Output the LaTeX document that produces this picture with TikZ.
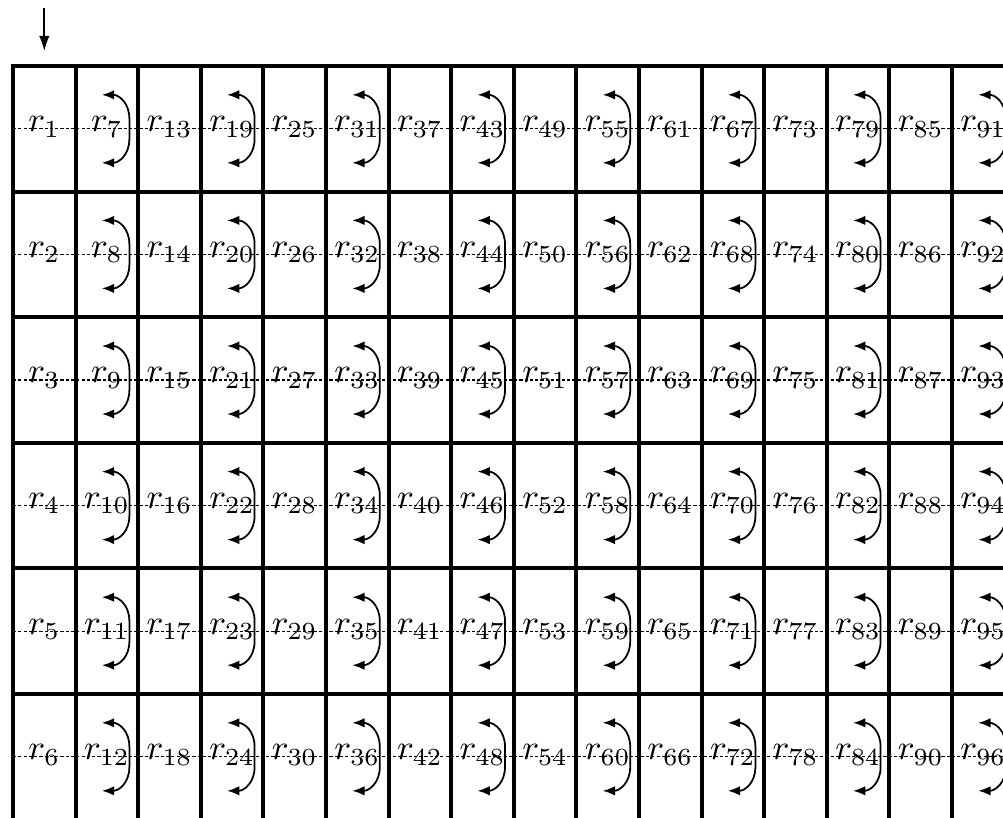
\documentclass[tikz,border=0pt]{standalone}
\usetikzlibrary{arrows.meta}
\begin{document}
\begin{tikzpicture}[x=0.01cm,y=-0.01cm,
  gridline/.style={line width=1.1pt,line cap=rect},
  midline/.style={line width=0.3pt,dash pattern=on 0.9pt off 0.6pt},
  swaparrow/.style={line width=0.5pt,{Latex[length=3.5pt,width=2.7pt]}-{Latex[length=3.5pt,width=2.7pt]}},
  entry/.style={line width=0.5pt,-{Latex[length=4.3pt,width=3pt]}},
  lab/.style={inner sep=0pt}]
\path[use as bounding box] (0,0) rectangle (1003,817);
\clip (0,0) rectangle (1003,817);
% grid
\foreach \c in {0,...,16}
  \draw[gridline] ({13+62.6*\c},66) -- ({13+62.6*\c},830);
\foreach \j in {0,...,6}
  \draw[gridline] (13,{66+125.6*\j}) -- (1025,{66+125.6*\j});
% labels
\foreach \c in {0,...,15}{
  \foreach \j in {0,...,5}{
    \pgfmathtruncatemacro\n{6*\c+\j+1}
    \node[lab] (r\n) at ({13+62.6*(\c+0.5)},{66+125.6*(\j+0.5)-2}) {$r_{\n}$};
  }
}
% dashed row lines
\foreach \j in {0,...,5}{
  \coordinate (ds\j) at (13,{66+125.6*(\j+0.5)});
  \coordinate (de\j) at (1025,{66+125.6*(\j+0.5)});
  \draw[midline] (ds\j) -- (de\j);
}
% swap arrows in odd columns
\foreach \c in {1,3,...,15}{
  \foreach \j in {0,...,5}{
    \pgfmathsetmacro\cx{13+62.6*(\c+0.5)}
    \pgfmathsetmacro\cy{66+125.6*(\j+0.5)}
    \coordinate (ta\c-\j) at ({\cx-5},{\cy-34});
    \coordinate (ba\c-\j) at ({\cx-5},{\cy+34});
    \draw[swaparrow] (ta\c-\j)
      .. controls ({\cx+12},{\cy-34}) and ({\cx+22.5},{\cy-26}) .. ({\cx+22.5},{\cy-10})
      -- ({\cx+22.5},{\cy+10})
      .. controls ({\cx+22.5},{\cy+26}) and ({\cx+12},{\cy+34}) .. (ba\c-\j);
  }
}
% entry arrow
\coordinate (entrystart) at (44.3,8);
\coordinate (entryend) at (44.3,51);
\draw[entry] (entrystart) -- (entryend);
\end{tikzpicture}
\end{document}
